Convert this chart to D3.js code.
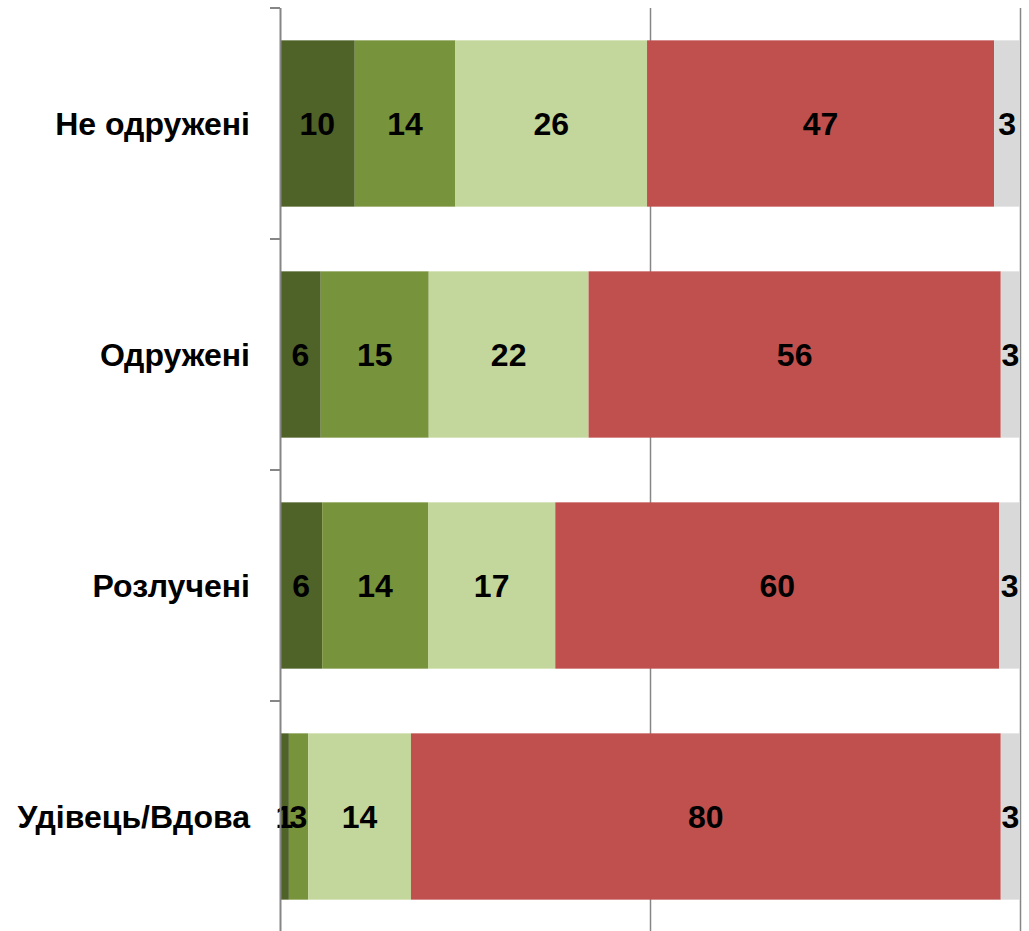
<!DOCTYPE html>
<html>
<head>
<meta charset="utf-8">
<script src="https://cdn.jsdelivr.net/npm/d3@7"></script>
<style>
  body { margin: 0; background: #fff; }
  svg text { font-family: "Liberation Sans", Arial, sans-serif; font-weight: bold; }
</style>
</head>
<body>
<script>
// categories and stacked series (percent)
const categories = ['Не одружені', 'Одружені', 'Розлучені', 'Удівець/Вдова']
const seriesNames = ['s1', 's2', 's3', 's4', 's5']
const s1 = [10.1, 5.5, 5.7, 1.2]
const s2 = [13.6, 14.6, 14.3, 2.6]
const s3 = [25.9, 21.6, 17.2, 13.9]
const s4 = [46.9, 55.7, 60.0, 79.7]
const s5 = [3.5, 2.6, 2.8, 2.6]
const labels1 = ['10', '6', '6', '1']
const labels2 = ['14', '15', '14', '3']
const labels3 = ['26', '22', '17', '14']
const labels4 = ['47', '56', '60', '80']
const labels5 = ['3', '3', '3', '3']
const colors = ['#4f6228', '#77933c', '#c3d69b', '#c0504d', '#d9d9d9']
const xTicks = [0, 50, 100]

const size = { width: 1029, height: 931, left: 280, right: 1020, top: 8, band: 231, font: 32 }

// build rows for the stack
const allVals = [s1, s2, s3, s4, s5]
const allLabels = [labels1, labels2, labels3, labels4, labels5]
const rows = categories.map((c, i) => {
    let r = { cat: c }
    seriesNames.forEach((k, j) => { r[k] = allVals[j][i] })
    return r
})
const stacked = d3.stack().keys(seriesNames)(rows)

let svg = d3.select('body')
            .append('svg')
            .attr('width', size.width)
            .attr('height', size.height)

let xScale = d3.scaleLinear()
               .domain([0, 100])
               .range([size.left, size.right])

let yScale = d3.scaleBand()
               .domain(categories)
               .range([size.top, size.top + size.band * categories.length])
               .paddingInner(0.28)
               .paddingOuter(0.14)

// vertical gridlines
svg.append('g')
   .selectAll('line')
   .data(xTicks.slice(1))
   .enter()
   .append('line')
   .attr('x1', d => xScale(d) + 0.5)
   .attr('x2', d => xScale(d) + 0.5)
   .attr('y1', size.top)
   .attr('y2', size.top + size.band * categories.length)
   .attr('stroke', '#868686')
   .attr('stroke-width', 1.5)

// bars
let layers = svg.append('g')
   .selectAll('g')
   .data(stacked)
   .enter()
   .append('g')
   .attr('fill', (d, i) => colors[i])

layers.selectAll('rect')
   .data(d => d)
   .enter()
   .append('rect')
   .attr('x', d => xScale(d[0]))
   .attr('width', d => xScale(d[1]) - xScale(d[0]))
   .attr('y', d => yScale(d.data.cat))
   .attr('height', yScale.bandwidth())

// value labels
stacked.forEach((layer, j) => {
    svg.append('g')
       .selectAll('text')
       .data(layer)
       .enter()
       .append('text')
       .attr('x', d => (xScale(d[0]) + xScale(d[1])) / 2)
       .attr('y', d => yScale(d.data.cat) + yScale.bandwidth() / 2)
       .attr('text-anchor', 'middle')
       .attr('dominant-baseline', 'central')
       .attr('font-size', size.font)
       .attr('fill', '#000')
       .text((d, i) => allLabels[j][i])
})

// y axis with boundary ticks
let yAxisG = svg.append('g')
svg.append('line')
   .attr('x1', size.left + 0.5).attr('x2', size.left + 0.5)
   .attr('y1', size.top).attr('y2', size.top + size.band * categories.length)
   .attr('stroke', '#868686').attr('stroke-width', 2)
yAxisG.selectAll('line')
   .data(d3.range(categories.length + 1))
   .enter()
   .append('line')
   .attr('x1', size.left - 10).attr('x2', size.left)
   .attr('y1', d => size.top + d * size.band)
   .attr('y2', d => size.top + d * size.band)
   .attr('stroke', '#868686').attr('stroke-width', 2)

svg.append('g')
   .selectAll('text')
   .data(categories)
   .enter()
   .append('text')
   .attr('x', 250)
   .attr('y', d => yScale(d) + yScale.bandwidth() / 2)
   .attr('text-anchor', 'end')
   .attr('dominant-baseline', 'central')
   .attr('font-size', size.font)
   .attr('fill', '#000')
   .text(d => d)
</script>
</body>
</html>
